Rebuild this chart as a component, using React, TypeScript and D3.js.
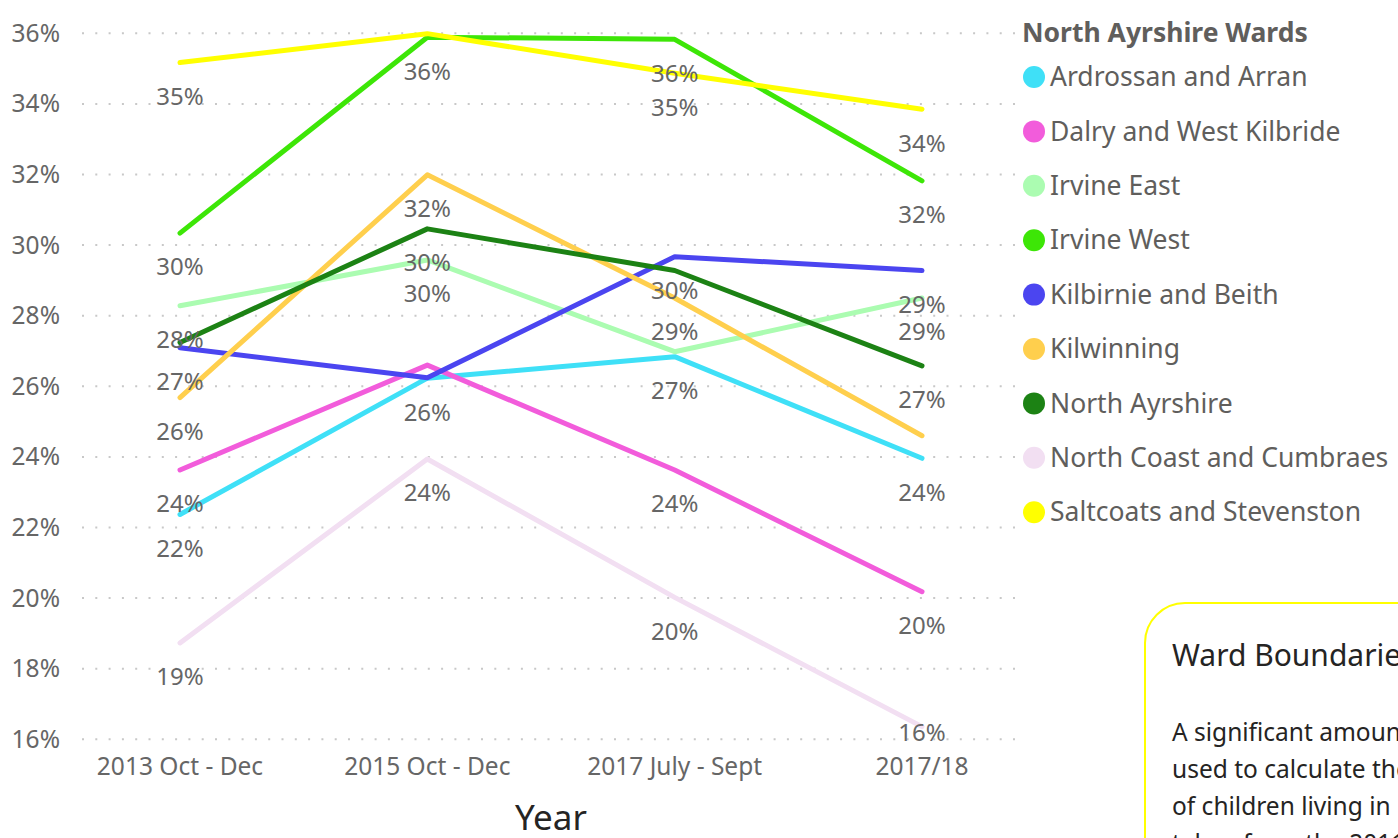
import React, { useRef, useEffect } from 'react';
import { select, scaleLinear, scalePoint, line } from 'd3';

const categories = ['2013 Oct - Dec', '2015 Oct - Dec', '2017 July - Sept', '2017/18'];
const wards = [
  'Ardrossan and Arran',
  'Dalry and West Kilbride',
  'Irvine East',
  'Irvine West',
  'Kilbirnie and Beith',
  'Kilwinning',
  'North Ayrshire',
  'North Coast and Cumbraes',
  'Saltcoats and Stevenston',
];
const colors = ['#3FE0F7', '#F25CDB', '#ABFCB1', '#3DE607', '#4B45F0', '#FFCF4D', '#1C8214', '#F2DFF2', '#FFFF00'];

// percent of children in poverty
const ardrossan = [22.37, 26.23, 26.84, 23.96];
const dalry = [23.63, 26.6, 23.63, 20.18];
const irvineEast = [28.28, 29.58, 26.98, 28.5];
const irvineWest = [30.34, 35.89, 35.83, 31.82];
const kilbirnie = [27.09, 26.24, 29.67, 29.28];
const kilwinning = [25.68, 31.99, 28.5, 24.6];
const northAyrshire = [27.24, 30.46, 29.28, 26.58];
const northCoast = [18.73, 23.94, 20.02, 16.36];
const saltcoats = [35.17, 35.99, 34.87, 33.85];
const seriesValues = [ardrossan, dalry, irvineEast, irvineWest, kilbirnie, kilwinning, northAyrshire, northCoast, saltcoats];

const yTicks = [16, 18, 20, 22, 24, 26, 28, 30, 32, 34, 36];

const boxLines = [
  'A significant amount of the data',
  'used to calculate the percentage',
  'of children living in poverty was',
  'taken from the 2011 census',
];

const FONT = "'Segoe UI', 'Noto Sans', sans-serif";

export default function App() {
  const svgRef = useRef(null);

  useEffect(() => {
    const svg = select(svgRef.current);
    svg.selectAll('*').remove();

    const x = scalePoint().domain(categories).range([180, 922]);
    const y = scaleLinear().domain([16, 36]).range([739.3, 33.3]);

    // gridlines + y labels
    const grid = svg.append('g');
    yTicks.forEach((t) => {
      grid
        .append('line')
        .attr('x1', 82)
        .attr('x2', 1016)
        .attr('y1', y(t))
        .attr('y2', y(t))
        .attr('stroke', '#C8C8C8')
        .attr('stroke-width', 2)
        .attr('stroke-dasharray', '2,11.3');
      grid
        .append('text')
        .attr('x', 60)
        .attr('y', y(t))
        .attr('dy', '0.35em')
        .attr('text-anchor', 'end')
        .attr('font-size', 24.5)
        .attr('fill', '#666666')
        .text(t + '%');
    });

    // x labels
    svg
      .append('g')
      .selectAll('text')
      .data(categories)
      .join('text')
      .attr('x', (d) => x(d))
      .attr('y', 766)
      .attr('dy', '0.35em')
      .attr('text-anchor', 'middle')
      .attr('font-size', 24.5)
      .attr('fill', '#666666')
      .text((d) => d);

    svg
      .append('text')
      .attr('x', 551)
      .attr('y', 818)
      .attr('dy', '0.35em')
      .attr('text-anchor', 'middle')
      .attr('font-size', 35)
      .attr('fill', '#252423')
      .text('Year');

    // lines
    const lineGen = line()
      .x((d, i) => x(categories[i]))
      .y((d) => y(d));

    svg
      .append('g')
      .selectAll('path')
      .data(seriesValues)
      .join('path')
      .attr('d', (d) => lineGen(d))
      .attr('fill', 'none')
      .attr('stroke', (d, i) => colors[i])
      .attr('stroke-width', 5)
      .attr('stroke-linecap', 'round')
      .attr('stroke-linejoin', 'round');

    // data labels, hide the ones that collide (like power bi does)
    const labels = svg.append('g');
    categories.forEach((c, ci) => {
      const placed = [];
      seriesValues.forEach((vals) => {
        const ly = Math.min(y(vals[ci]) + 34, 733);
        if (placed.some((p) => Math.abs(p - ly) < 24)) return;
        placed.push(ly);
        labels
          .append('text')
          .attr('x', x(c))
          .attr('y', ly)
          .attr('dy', '0.35em')
          .attr('text-anchor', 'middle')
          .attr('font-size', 24)
          .attr('fill', '#666666')
          .text(Math.round(vals[ci]) + '%');
      });
    });

    // legend
    const legend = svg.append('g');
    legend
      .append('text')
      .attr('x', 1022)
      .attr('y', 33)
      .attr('dy', '0.35em')
      .attr('font-size', 26.5)
      .attr('font-weight', 'bold')
      .attr('fill', '#605E5C')
      .text('North Ayrshire Wards');
    wards.forEach((w, i) => {
      const ly = 77 + i * 54.4;
      legend.append('circle').attr('cx', 1034).attr('cy', ly).attr('r', 11).attr('fill', colors[i]);
      legend
        .append('text')
        .attr('x', 1050)
        .attr('y', ly)
        .attr('dy', '0.35em')
        .attr('font-size', 26.5)
        .attr('fill', '#605E5C')
        .text(w);
    });

    // text box bottom right
    const box = svg.append('g');
    box
      .append('rect')
      .attr('x', 1145)
      .attr('y', 603)
      .attr('width', 400)
      .attr('height', 400)
      .attr('rx', 40)
      .attr('fill', '#ffffff')
      .attr('stroke', '#FFFF00')
      .attr('stroke-width', 2);
    box
      .append('text')
      .attr('x', 1172)
      .attr('y', 655)
      .attr('dy', '0.35em')
      .attr('font-size', 30)
      .attr('fill', '#252423')
      .text('Ward Boundaries');
    boxLines.forEach((t, i) => {
      box
        .append('text')
        .attr('x', 1172)
        .attr('y', 732 + i * 37)
        .attr('dy', '0.35em')
        .attr('font-size', 24.5)
        .attr('fill', '#252423')
        .text(t);
    });
  }, []);

  return (
    <svg
      ref={svgRef}
      width={1398}
      height={838}
      style={{ position: 'fixed', top: 0, left: 0, fontFamily: FONT, background: '#fff' }}
    />
  );
}
